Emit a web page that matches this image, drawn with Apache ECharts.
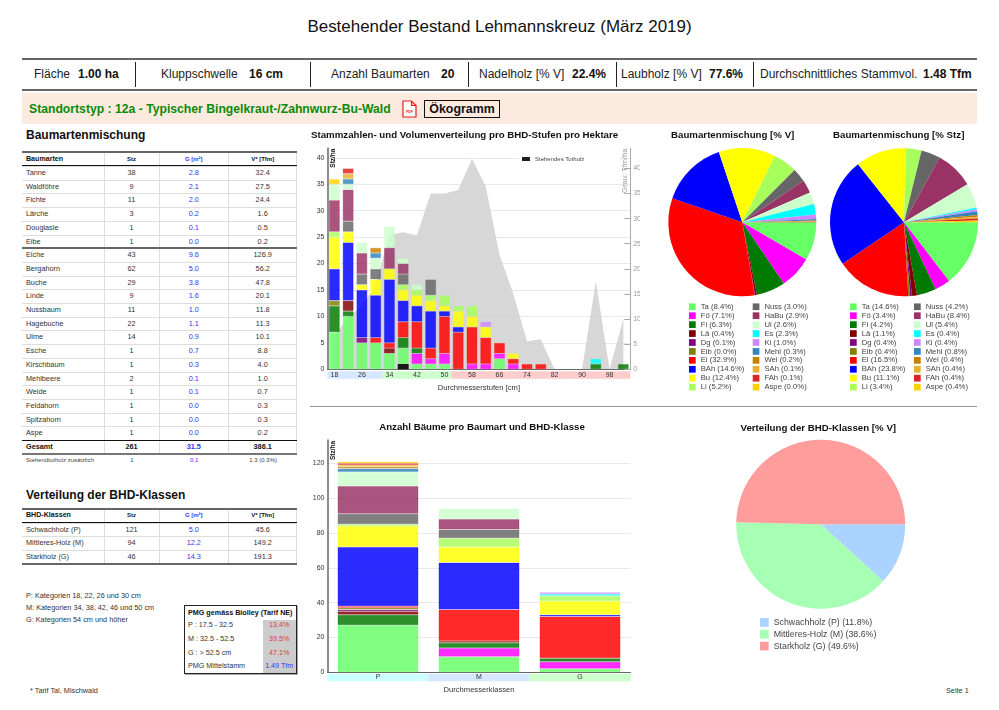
<!DOCTYPE html>
<html lang="de">
<head>
<meta charset="utf-8">
<title>Bestehender Bestand Lehmannskreuz</title>
<script src="https://cdn.jsdelivr.net/npm/echarts@6/dist/echarts.min.js"></script>
<style>
html, body { margin: 0; padding: 0; background: #fff; }
body { position: relative; width: 999px; height: 710px; overflow: hidden; font-family: "Liberation Sans", Arial, sans-serif; color: #222; }
.abs { position: absolute; white-space: nowrap; }
.hline { position: absolute; left: 22px; width: 955px; height: 2px; background: #666; }
.vline { position: absolute; top: 62px; height: 25px; width: 1px; background: #222; }
.info { position: absolute; top: 67px; font-size: 12px; line-height: 14px; white-space: nowrap; }
.info b { color: #111; }
.chart { position: absolute; }
.h2 { position: absolute; left: 26px; font-size: 12px; line-height: 15px; font-weight: bold; color: #111; white-space: nowrap; }
.row { position: absolute; left: 22px; width: 275.4px; display: grid; grid-template-columns: 82.5px 55px 69.5px 68.4px; box-sizing: border-box; font-size: 7.3px; color: #333; }
.row div { text-align: center; box-sizing: border-box; border-right: 1px solid #ddd; border-bottom: 1px solid #ddd; white-space: nowrap; }
.row div:first-child { text-align: left; padding-left: 4px; }
.row div:nth-child(3) { color: #3a33ff; }
.row.head { font-weight: bold; font-size: 6px; color: #111; }
.row.head div:first-child { font-size: 7.1px; }
.row.total { font-weight: bold; color: #111; }
.row.dead { font-size: 6px; color: #444; }
.row.dead div { border: 0; }
.note { position: absolute; left: 26px; font-size: 7.3px; line-height: 9px; color: #333; white-space: nowrap; }
.pmg { position: absolute; left: 184px; top: 604.5px; width: 113px; height: 69.5px; box-sizing: border-box; border: 1px solid #222; box-shadow: 1px 1px 0 #aaa; font-size: 7.2px; color: #333; }
.pmg .cap { position: absolute; left: 3px; top: 2px; font-weight: bold; color: #111; white-space: nowrap; line-height: 9px; }
.pmg .side { position: absolute; left: 77.5px; right: 0; top: 14px; bottom: 0; background: #ccc; }
.pmg .lab { position: absolute; left: 3px; white-space: nowrap; line-height: 9px; }
.pmg .val { position: absolute; left: 77.5px; right: 0; text-align: center; line-height: 9px; color: #e8333a; white-space: nowrap; }
</style>
</head>
<body>
<div class="abs" style="left:0;width:999px;top:17px;text-align:center;font-size:16.95px;line-height:20px;color:#111">Bestehender Bestand Lehmannskreuz (März 2019)</div>

<div class="hline" style="top:58px"></div>
<div class="hline" style="top:89px"></div>
<div class="vline" style="left:135px"></div>
<div class="vline" style="left:310px"></div>
<div class="vline" style="left:468px"></div>
<div class="vline" style="left:616px"></div>
<div class="vline" style="left:753px"></div>
<div class="info" style="left:34px">Fläche</div><div class="info" style="left:78px"><b>1.00 ha</b></div>
<div class="info" style="left:161px">Kluppschwelle</div><div class="info" style="left:249px"><b>16 cm</b></div>
<div class="info" style="left:331px">Anzahl Baumarten</div><div class="info" style="left:441px"><b>20</b></div>
<div class="info" style="left:479px">Nadelholz [% V]</div><div class="info" style="left:572px"><b>22.4%</b></div>
<div class="info" style="left:621px">Laubholz [% V]</div><div class="info" style="left:709px"><b>77.6%</b></div>
<div class="info" style="left:760px">Durchschnittliches Stammvol.</div><div class="info" style="left:923px"><b>1.48 Tfm</b></div>

<div class="abs" style="left:22px;top:93px;width:955px;height:31px;background:#fdeade;border-radius:3px"></div>
<div class="abs" style="left:29px;top:102px;font-size:12.2px;line-height:15px;font-weight:bold;color:#0a8a0a">Standortstyp : 12a - Typischer Bingelkraut-/Zahnwurz-Bu-Wald</div>
<svg class="abs" style="left:402px;top:100px" width="15" height="18" viewBox="0 0 15 18">
  <path d="M1 1 H9.5 L14 5.5 V17 H1 Z M9.5 1 V5.5 H14" fill="#fff" stroke="#f01818" stroke-width="1.2"/>
  <text x="7.5" y="12.5" font-size="3.6" font-weight="bold" text-anchor="middle" fill="#f01818" font-family="Liberation Sans">PDF</text>
</svg>
<div class="abs" style="left:424px;top:100px;width:76px;height:18px;box-sizing:border-box;border:1px solid #111;text-align:center;font-size:12.4px;line-height:16px;font-weight:bold;color:#111">Ökogramm</div>

<div class="h2" style="top:128px">Baumartenmischung</div>
<div id="speciesTable"></div>
<div class="h2" style="top:488px">Verteilung der BHD-Klassen</div>
<div id="classTable"></div>

<div class="note" style="top:591px">P: Kategorien 18, 22, 26 und 30 cm</div>
<div class="note" style="top:603px">M: Kategorien 34, 38, 42, 46 und 50 cm</div>
<div class="note" style="top:615px">G: Kategorien 54 cm und höher</div>
<div class="note" style="top:686px;left:30px">* Tarif Tal, Mischwald</div>
<div class="abs" style="left:946px;top:686px;font-size:7.3px;line-height:9px;color:#333">Seite 1</div>

<div class="pmg" id="pmgBox"><div class="side"></div><div class="cap">PMG gemäss Biolley (Tarif NE)</div></div>

<div class="abs" style="left:310px;top:406px;width:667px;height:1px;background:#999"></div>

<div id="diameterChart" class="chart" style="left:310px;top:125px;width:330px;height:270px"></div>
<div id="volumePie" class="chart" style="left:660px;top:125px;width:165px;height:285px"></div>
<div id="stemPie" class="chart" style="left:825px;top:125px;width:165px;height:285px"></div>
<div id="classChart" class="chart" style="left:310px;top:410px;width:330px;height:285px"></div>
<div id="classPie" class="chart" style="left:715px;top:410px;width:220px;height:270px"></div>

<script>
// Baumarten
const speciesShort = ['Ta', 'Fö', 'Fi', 'Lä', 'Dg', 'Eib', 'Ei', 'BAh', 'Bu', 'Li', 'Nuss', 'HaBu', 'Ul', 'Es', 'Ki', 'Mehl', 'Wei', 'SAh', 'FAh', 'Aspe']
const speciesColors = ['#66ff66', '#ff00ff', '#007a00', '#800000', '#800080', '#808000', '#ff0000', '#0000ff', '#ffff00', '#a6ff5a', '#666666', '#993366', '#ccffcc', '#00ffff', '#cc88ff', '#3385bb', '#c88000', '#e6b030', '#dd2222', '#ffd000']
const volumePercent = [8.4, 7.1, 6.3, 0.4, 0.1, 0.0, 32.9, 14.6, 12.4, 5.2, 3.0, 2.9, 2.6, 2.3, 1.0, 0.3, 0.2, 0.1, 0.1, 0.0]
const stemPercent = [14.6, 3.4, 4.2, 1.1, 0.4, 0.4, 16.5, 23.8, 11.1, 3.4, 4.2, 8.4, 5.4, 0.4, 0.4, 0.8, 0.4, 0.4, 0.4, 0.4]

// Stammzahlen pro BHD-Stufe (18 bis 102 cm)
const diameters = ['18', '22', '26', '30', '34', '38', '42', '46', '50', '54', '58', '62', '66', '70', '74', '78', '82', '86', '90', '94', '98', '102']
const deadStems = [0, 0, 0, 0, 0, 1, 0, 0, 0, 0, 0, 0, 0, 0, 0, 0, 0, 0, 0, 0, 0, 0]
const taStems = [7, 10, 5, 5, 3, 3, 1, 1, 1, 0, 0, 0, 2, 0, 0, 0, 0, 0, 0, 0, 0, 0]
const foStems = [0, 0, 0, 0, 0, 0, 2, 1, 2, 0, 1, 1, 1, 1, 0, 0, 0, 0, 0, 0, 0, 0]
const fiStems = [5, 1, 0, 0, 0, 2, 1, 0, 0, 0, 0, 0, 0, 0, 0, 0, 0, 0, 0, 1, 0, 1]
const laStems = [0, 2, 0, 0, 1, 0, 0, 0, 0, 0, 0, 0, 0, 0, 0, 0, 0, 0, 0, 0, 0, 0]
const dgStems = [0, 0, 1, 0, 0, 0, 0, 0, 0, 0, 0, 0, 0, 0, 0, 0, 0, 0, 0, 0, 0, 0]
const eibStems = [1, 0, 0, 0, 0, 0, 0, 0, 0, 0, 0, 0, 0, 0, 0, 0, 0, 0, 0, 0, 0, 0]
const eiStems = [0, 0, 0, 1, 1, 3, 5, 2, 7, 7, 7, 5, 2, 1, 1, 1, 0, 0, 0, 0, 0, 0]
const bahStems = [6, 11, 9, 8, 12, 4, 3, 7, 1, 1, 0, 0, 0, 0, 0, 0, 0, 0, 0, 0, 0, 0]
const buStems = [6, 2, 1, 3, 2, 2, 2, 2, 1, 3, 2, 2, 0, 1, 0, 0, 0, 0, 0, 0, 0, 0]
const liStems = [1, 0, 0, 0, 0, 1, 1, 1, 2, 1, 2, 0, 0, 0, 0, 0, 0, 0, 0, 0, 0, 0]
const nussStems = [0, 2, 2, 2, 0, 2, 0, 3, 0, 0, 0, 0, 0, 0, 0, 0, 0, 0, 0, 0, 0, 0]
const habuStems = [6, 6, 4, 0, 4, 2, 0, 0, 0, 0, 0, 0, 0, 0, 0, 0, 0, 0, 0, 0, 0, 0]
const ulStems = [3, 1, 2, 2, 4, 1, 1, 0, 0, 0, 0, 0, 0, 0, 0, 0, 0, 0, 0, 0, 0, 0]
const esStems = [0, 0, 0, 0, 0, 0, 0, 0, 0, 0, 0, 0, 0, 0, 0, 0, 0, 0, 0, 1, 0, 0]
const kiStems = [0, 0, 0, 0, 0, 0, 0, 0, 0, 0, 0, 1, 0, 0, 0, 0, 0, 0, 0, 0, 0, 0]
const mehlStems = [0, 1, 0, 1, 0, 0, 0, 0, 0, 0, 0, 0, 0, 0, 0, 0, 0, 0, 0, 0, 0, 0]
const weiStems = [0, 0, 0, 1, 0, 0, 0, 0, 0, 0, 0, 0, 0, 0, 0, 0, 0, 0, 0, 0, 0, 0]
const sahStems = [0, 1, 0, 0, 0, 0, 0, 0, 0, 0, 0, 0, 0, 0, 0, 0, 0, 0, 0, 0, 0, 0]
const fahStems = [0, 1, 0, 0, 0, 0, 0, 0, 0, 0, 0, 0, 0, 0, 0, 0, 0, 0, 0, 0, 0, 0]
const aspeStems = [1, 0, 0, 0, 0, 0, 0, 0, 0, 0, 0, 0, 0, 0, 0, 0, 0, 0, 0, 0, 0, 0]
const speciesStems = [taStems, foStems, fiStems, laStems, dgStems, eibStems, eiStems, bahStems, buStems, liStems, nussStems, habuStems, ulStems, esStems, kiStems, mehlStems, weiStems, sahStems, fahStems, aspeStems]
// Graue Flaeche: Tfm/ha
const volumePerDiameter = [6.5, 10.5, 12.5, 17, 26.8, 27.3, 26.7, 35, 35, 35.7, 41.9, 36.4, 22.8, 15.1, 5.6, 6, 0, 0, 0, 17.5, 0, 10]
const leftTicks = [0, 5, 10, 15, 20, 25, 30, 35, 40]
const rightTicks = [0, 5, 10, 15, 20, 25, 30, 35, 40]

// BHD-Klassen, Reihenfolge wie speciesShort
const classNames = ['P', 'M', 'G']
const pStems = [27, 0, 6, 2, 1, 1, 1, 34, 12, 1, 6, 16, 8, 0, 0, 2, 1, 1, 1, 1]
const mStems = [9, 5, 3, 1, 0, 0, 18, 27, 9, 5, 5, 6, 6, 0, 0, 0, 0, 0, 0, 0]
const gStems = [2, 4, 2, 0, 0, 0, 24, 1, 8, 3, 0, 0, 0, 1, 1, 0, 0, 0, 0, 0]
const classTicks = [0, 20, 40, 60, 80, 100, 120]
const classLegend = ['Schwachholz (P)', 'Mittleres-Holz (M)', 'Starkholz (G)']
const classPercent = [11.8, 38.6, 49.6]
const classColors = ['#aad4ff', '#a6ffb3', '#ff9c9c']

// Tabellen
const treeNames = ['Tanne', 'Waldföhre', 'Fichte', 'Lärche', 'Douglasie', 'Eibe', 'Eiche', 'Bergahorn', 'Buche', 'Linde', 'Nussbaum', 'Hagebuche', 'Ulme', 'Esche', 'Kirschbaum', 'Mehlbeere', 'Weide', 'Feldahorn', 'Spitzahorn', 'Aspe']
const treeStz = ['38', '9', '11', '3', '1', '1', '43', '62', '29', '9', '11', '22', '14', '1', '1', '2', '1', '1', '1', '1']
const treeG = ['2.8', '2.1', '2.0', '0.2', '0.1', '0.0', '9.6', '5.0', '3.8', '1.6', '1.0', '1.1', '0.9', '0.7', '0.3', '0.1', '0.1', '0.0', '0.0', '0.0']
const treeV = ['32.4', '27.5', '24.4', '1.6', '0.5', '0.2', '126.9', '56.2', '47.8', '20.1', '11.8', '11.3', '10.1', '8.8', '4.0', '1.0', '0.7', '0.3', '0.3', '0.2']
const classStz = ['121', '94', '46']
const classG = ['5.0', '12.2', '14.3']
const classV = ['45.6', '149.2', '191.3']
const pmgLabels = ['P : 17.5 - 32.5', 'M : 32.5 - 52.5', 'G : > 52.5 cm', 'PMG Mittelstamm']
const pmgValues = ['13.4%', '39.5%', '47.1%', '1.49 Tfm']

const FONT = '"Liberation Sans", Arial, sans-serif'

function addRow(parent, top, height, cells, cls) {
  const row = document.createElement('div')
  row.className = 'row ' + (cls || '')
  row.style.top = top + 'px'
  row.style.height = height + 'px'
  cells.forEach((text) => {
    const cell = document.createElement('div')
    cell.textContent = text
    cell.style.lineHeight = height + 'px'
    row.appendChild(cell)
  })
  parent.appendChild(row)
}

function addRule(parent, top, height, color) {
  const line = document.createElement('div')
  line.className = 'abs'
  line.style.cssText = `left:22px;width:275.4px;top:${top}px;height:${height}px;background:${color}`
  parent.appendChild(line)
}

function buildTables() {
  const species = document.getElementById('speciesTable')
  const rowH = 13.7
  const start = 166
  addRow(species, 152, 14, ['Baumarten', 'Stz', 'G [m²]', 'V* [Tfm]'], 'head')
  treeNames.forEach((name, i) => {
    addRow(species, start + i * rowH, rowH, [name, treeStz[i], treeG[i], treeV[i]])
  })
  addRow(species, 440, 14, ['Gesamt', '261', '31.5', '386.1'], 'total')
  addRow(species, 455, 11, ['Stehendtotholz zusätzlich', '1', '0.1', '1.3 (0.3%)'], 'dead')
  addRule(species, 151, 1.6, '#666')
  addRule(species, 165.2, 1.2, '#111')
  addRule(species, start + 6 * rowH - 0.8, 1.6, '#666')
  addRule(species, 439.6, 1.2, '#111')
  addRule(species, 453.4, 1.6, '#777')

  const classes = document.getElementById('classTable')
  addRow(classes, 509, 13.5, ['BHD-Klassen', 'Stz', 'G [m²]', 'V* [Tfm]'], 'head')
  classLegend.forEach((name, i) => {
    addRow(classes, 522.6 + i * rowH, rowH, [name, classStz[i], classG[i], classV[i]])
  })
  addRule(classes, 508.4, 1.6, '#666')
  addRule(classes, 521.8, 1.2, '#111')
  addRule(classes, 563.2, 1.6, '#666')

  const box = document.getElementById('pmgBox')
  const rows = [20, 33.8, 47.6, 60.6]
  pmgLabels.forEach((label, i) => {
    const lab = document.createElement('div')
    lab.className = 'lab'
    lab.style.top = (rows[i] - 4.5 - 1) + 'px'
    lab.textContent = label
    box.appendChild(lab)
    const val = document.createElement('div')
    val.className = 'val'
    val.style.top = (rows[i] - 4.5 - 1) + 'px'
    if (i === 3) val.style.color = '#3a33ff'
    val.textContent = pmgValues[i]
    box.appendChild(val)
  })
}

function rotatedLabel(text, x, y, color, size, weight) {
  return {
    type: 'text',
    x,
    y,
    rotation: Math.PI / 2,
    z: 50,
    style: { text, fill: color, font: `${weight} ${size}px ${FONT}`, textAlign: 'left', textVerticalAlign: 'middle' },
  }
}

function stackedSeries(rows) {
  return speciesShort.map((name, i) => ({
    name,
    type: 'bar',
    stack: 'stz',
    z: 3,
    // leere Segmente ohne Rand, sonst bleibt ein Strich im Stapel
    data: rows(i).map((v) => (v === 0 ? null : v)),
    itemStyle: { color: speciesColors[i] + 'd4', borderColor: speciesColors[i] + '55', borderWidth: 1 },
  }))
}

function initDiameterChart() {
  const chart = echarts.init(document.getElementById('diameterChart'))
  const bandRich = {
    p: { width: 14, height: 7.5, lineHeight: 7.5, align: 'center', backgroundColor: '#d6e8ff' },
    m: { width: 14, height: 7.5, lineHeight: 7.5, align: 'center', backgroundColor: '#ccffcc' },
    g: { width: 14, height: 7.5, lineHeight: 7.5, align: 'center', backgroundColor: '#ffcccc' },
  }
  chart.setOption({
    animation: false,
    textStyle: { fontFamily: FONT },
    title: {
      text: 'Stammzahlen- und Volumenverteilung pro BHD-Stufen pro Hektare',
      left: 1,
      top: 5,
      padding: 0,
      textStyle: { fontSize: 9.7, fontWeight: 'bold', color: '#111', fontFamily: FONT },
    },
    legend: {
      data: ['Stehendes Totholz'],
      left: 209,
      top: 29,
      padding: [2, 35, 2, 3],
      backgroundColor: '#fff',
      itemWidth: 8,
      itemHeight: 4,
      icon: 'rect',
      textStyle: { fontSize: 6, color: '#444', fontFamily: FONT },
    },
    grid: { left: 17.5, top: 23.3, width: 302.7, height: 221, outerBoundsMode: 'none', containLabel: false },
    xAxis: {
      type: 'category',
      data: diameters,
      name: 'Durchmesserstufen [cm]',
      nameLocation: 'middle',
      nameGap: 14,
      nameTextStyle: { fontSize: 7.6, color: '#333', fontFamily: FONT },
      axisLine: { lineStyle: { color: '#666', width: 1 } },
      axisTick: { show: false },
      axisLabel: {
        interval: 0,
        margin: 2,
        fontSize: 7,
        color: '#333',
        formatter(value, index) {
          const band = index < 4 ? 'p' : index < 9 ? 'm' : 'g'
          return `{${band}|${index % 2 === 0 ? value : ' '}}`
        },
        rich: bandRich,
      },
    },
    yAxis: [
      {
        type: 'value',
        min: 0,
        max: 41.8,
        axisLine: { show: true, lineStyle: { color: '#666', width: 1.5 } },
        axisTick: { show: false, customValues: leftTicks },
        axisLabel: { customValues: leftTicks, fontSize: 7, color: '#333', margin: 3 },
        splitLine: { lineStyle: { color: '#e8e8e8', width: 1 } },
      },
      {
        type: 'value',
        min: 0,
        max: 44,
        position: 'right',
        axisLine: { show: true, lineStyle: { color: '#aaa', width: 1 } },
        axisTick: { show: true, inside: true, length: 6, customValues: rightTicks, lineStyle: { color: '#aaa' } },
        axisLabel: { customValues: rightTicks, fontSize: 7, color: '#999', margin: 3 },
        splitLine: { show: false },
      },
    ],
    graphic: [
      rotatedLabel('Stz/ha', 23.5, 42.7, '#111', 6.5, 'bold'),
      rotatedLabel('Grau: Tfm/ha', 315, 68, '#999', 7.6, 'normal'),
    ],
    series: [
      {
        name: 'Volumen',
        type: 'line',
        yAxisIndex: 1,
        z: 1,
        symbol: 'none',
        data: volumePerDiameter,
        lineStyle: { width: 0 },
        itemStyle: { color: '#d4d4d4' },
        areaStyle: { color: '#d0d0d0', opacity: 0.85 },
      },
      {
        name: 'Stehendes Totholz',
        type: 'bar',
        stack: 'stz',
        z: 3,
        barWidth: 11,
        data: deadStems.map((v) => (v === 0 ? null : v)),
        itemStyle: { color: '#000000e0' },
      },
      ...stackedSeries((i) => speciesStems[i]),
    ],
  })
}

function initClassChart() {
  const chart = echarts.init(document.getElementById('classChart'))
  const bandStyle = (color) => ({ width: 101.5, height: 7.5, lineHeight: 7.5, align: 'center', backgroundColor: color })
  chart.setOption({
    animation: false,
    textStyle: { fontFamily: FONT },
    title: {
      text: 'Anzahl Bäume pro Baumart und BHD-Klasse',
      left: 172,
      top: 12,
      padding: 0,
      textAlign: 'center',
      textStyle: { fontSize: 9.7, fontWeight: 'bold', color: '#111', fontFamily: FONT },
    },
    grid: { left: 17.5, top: 30, width: 303, height: 232.3, outerBoundsMode: 'none', containLabel: false },
    xAxis: {
      type: 'category',
      data: classNames,
      name: 'Durchmesserklassen',
      nameLocation: 'middle',
      nameGap: 13.5,
      nameTextStyle: { fontSize: 7.6, color: '#333', fontFamily: FONT },
      axisLine: { lineStyle: { color: '#666', width: 1 } },
      axisTick: { show: false },
      axisLabel: {
        interval: 0,
        margin: 1.5,
        fontSize: 7,
        color: '#333',
        formatter: (value) => `{${value}|${value}}`,
        rich: { P: bandStyle('#ccffff'), M: bandStyle('#d6e8ff'), G: bandStyle('#ccffcc') },
      },
    },
    yAxis: {
      type: 'value',
      min: 0,
      max: 133.4,
      axisLine: { show: true, lineStyle: { color: '#666', width: 1.5 } },
      axisTick: { show: false, customValues: classTicks },
      axisLabel: { customValues: classTicks, fontSize: 7, color: '#333', margin: 3 },
      splitLine: { lineStyle: { color: '#e8e8e8', width: 1 } },
    },
    graphic: [rotatedLabel('Stz/ha', 23.5, 50, '#111', 6.5, 'bold')],
    series: stackedSeries((i) => [pStems[i], mStems[i], gStems[i]]).map((s) => ({ ...s, barWidth: 81 })),
  })
}

function initSpeciesPie(id, title, values, titleX, centerX, leftCol, rightCol) {
  const chart = echarts.init(document.getElementById(id))
  const names = speciesShort.map((name, i) => `${name} (${values[i].toFixed(1)}%)`)
  const legendColumn = (items, left) => ({
    data: items,
    orient: 'vertical',
    left,
    top: 177.3,
    padding: 0,
    icon: 'rect',
    itemWidth: 6.7,
    itemHeight: 6.7,
    itemGap: 0,
    selectedMode: false,
    textStyle: { fontSize: 7.7, color: '#444', lineHeight: 8.93, height: 8.93, fontFamily: FONT },
  })
  chart.setOption({
    animation: false,
    title: {
      text: title,
      left: titleX,
      top: 5,
      padding: 0,
      textAlign: 'center',
      textStyle: { fontSize: 9.7, fontWeight: 'bold', color: '#111', fontFamily: FONT },
    },
    legend: [legendColumn(names.slice(0, 10), leftCol), legendColumn(names.slice(10), rightCol)],
    series: [
      {
        type: 'pie',
        radius: 74,
        center: [centerX, 97.3],
        startAngle: 0,
        clockwise: true,
        label: { show: false },
        labelLine: { show: false },
        emphasis: { disabled: true },
        data: names.map((name, i) => ({ name, value: values[i], itemStyle: { color: speciesColors[i] } })),
      },
    ],
  })
}

function initClassPie() {
  const chart = echarts.init(document.getElementById('classPie'))
  const names = classLegend.map((name, i) => `${name} (${classPercent[i].toFixed(1)}%)`)
  chart.setOption({
    animation: false,
    title: {
      text: 'Verteilung der BHD-Klassen [% V]',
      left: 103.3,
      top: 13,
      padding: 0,
      textAlign: 'center',
      textStyle: { fontSize: 9.7, fontWeight: 'bold', color: '#111', fontFamily: FONT },
    },
    legend: {
      data: names,
      orient: 'vertical',
      left: 45,
      top: 207,
      padding: 0,
      icon: 'rect',
      itemWidth: 8.7,
      itemHeight: 8.7,
      itemGap: 1,
      selectedMode: false,
      textStyle: { fontSize: 8.8, color: '#444', lineHeight: 10.83, height: 10.83, fontFamily: FONT },
    },
    series: [
      {
        type: 'pie',
        radius: 84.5,
        center: [105.7, 114.3],
        startAngle: 0,
        clockwise: true,
        label: { show: false },
        labelLine: { show: false },
        emphasis: { disabled: true },
        data: names.map((name, i) => ({ name, value: classPercent[i], itemStyle: { color: classColors[i] } })),
      },
    ],
  })
}

buildTables()
initDiameterChart()
initSpeciesPie('volumePie', 'Baumartenmischung [% V]', volumePercent, 72.7, 82.3, 29, 92.7)
initSpeciesPie('stemPie', 'Baumartenmischung [% Stz]', stemPercent, 73.7, 79, 25, 89)
initClassChart()
initClassPie()
</script>
</body>
</html>
